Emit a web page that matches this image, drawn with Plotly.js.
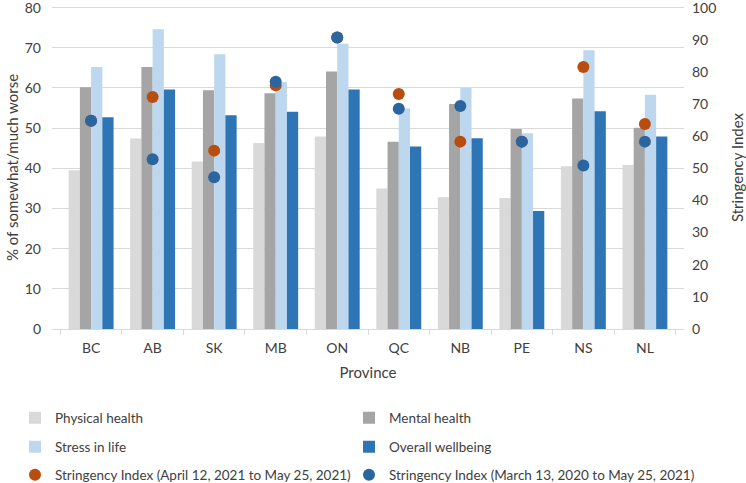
<!DOCTYPE html>
<html>
<head>
<meta charset="utf-8">
<script src="https://cdn.plot.ly/plotly-3.0.1.min.js"></script>
<style>html,body{margin:0;padding:0;background:#fff;}#chart{width:746px;height:483px;}</style>
</head>
<body>
<div id="chart"></div>
<script>
const provinces = ['BC','AB','SK','MB','ON','QC','NB','PE','NS','NL'];
const physicalHealth = [39.5, 47.4, 41.7, 46.3, 47.9, 35.0, 32.8, 32.6, 40.5, 40.8];
const mentalHealth   = [60.2, 65.2, 59.4, 58.7, 64.1, 46.6, 56.0, 49.8, 57.4, 50.1];
const stressInLife   = [65.2, 74.6, 68.4, 61.5, 71.0, 54.9, 60.0, 48.7, 69.4, 58.3];
const overallWellbeing = [52.7, 59.6, 53.2, 54.1, 59.6, 45.4, 47.5, 29.4, 54.2, 47.9];
const stringencyRecent = [64.8, 72.2, 55.5, 75.8, 90.7, 73.1, 58.3, 58.3, 81.5, 63.8];
const stringencyFull   = [64.8, 52.8, 47.2, 76.9, 90.7, 68.5, 69.4, 58.3, 50.9, 58.3];

const FONT = 'Lato, "Open Sans", sans-serif';
const txt = '#404040';

function bar(name, y, color, lg) {
  return {type:'bar', name, x:provinces, y, marker:{color}, legend:lg};
}
function dots(name, y, color, lg) {
  return {type:'scatter', mode:'markers', name, x:provinces, y, yaxis:'y2',
          marker:{color, size:12}, legend:lg};
}
const data = [
  bar('Physical health', physicalHealth, '#d9d9d9', 'legend'),
  bar('Mental health', mentalHealth, '#a5a5a5', 'legend2'),
  bar('Stress in life', stressInLife, '#bdd7ee', 'legend3'),
  bar('Overall wellbeing', overallWellbeing, '#2e75b6', 'legend4'),
  dots('Stringency Index (April 12, 2021 to May 25, 2021)', stringencyRecent, '#b84d0f', 'legend5'),
  dots('Stringency Index (March 13, 2020 to May 25, 2021)', stringencyFull, '#2a65a0', 'legend6')
];

// plot area: x 52..684; legends placed in paper x, container y
function leg(px, py) {
  return {orientation:'v', xref:'paper', yref:'container', xanchor:'left', yanchor:'middle',
    x:(px-52)/632, y:1 - py/483, itemwidth:30,
    font:{family:FONT, size:13.5, color:txt}, bgcolor:'rgba(0,0,0,0)'};
}
const c1 = 15, c2 = 349;

const layout = {
  width:746, height:483,
  margin:{l:52, r:62, t:6, b:154},
  paper_bgcolor:'#fff', plot_bgcolor:'#fff',
  font:{family:FONT, color:txt, size:14},
  barmode:'group', bargap:0.27, bargroupgap:0,
  xaxis:{type:'category', tickson:'boundaries', ticks:'outside', ticklen:5, tickcolor:'#d9d9d9',
         showline:true, linecolor:'#d9d9d9', linewidth:1, showgrid:false, ticklabelstandoff:6,
         tickfont:{family:FONT, size:14, color:txt},
         title:{text:'Province', font:{family:FONT, size:15, color:txt}, standoff:12}},
  yaxis:{range:[0,80.4], dtick:10, showgrid:true, gridcolor:'#d9d9d9', zeroline:false, showline:false,
         tickfont:{family:FONT, size:14, color:txt}, ticks:'', ticklabeloverflow:'allow', ticklabelstandoff:10,
         title:{text:'% of somewhat/much worse', font:{family:FONT, size:15, color:txt}, standoff:2}},
  yaxis2:{range:[0,100.5], dtick:10, overlaying:'y', side:'right', showgrid:false, zeroline:false,
          showline:false, tickfont:{family:FONT, size:14, color:txt}, ticklabeloverflow:'allow', ticklabelstandoff:7,
          title:{text:'Stringency Index', font:{family:FONT, size:15, color:txt}, standoff:21}},
  legend: leg(c1, 418),
  legend2: leg(c2, 418),
  legend3: leg(c1, 447),
  legend4: leg(c2, 447),
  legend5: leg(c1, 475),
  legend6: leg(c2, 475),
  showlegend:true
};

Plotly.newPlot('chart', data, layout, {displayModeBar:false, staticPlot:true});
</script>
</body>
</html>
